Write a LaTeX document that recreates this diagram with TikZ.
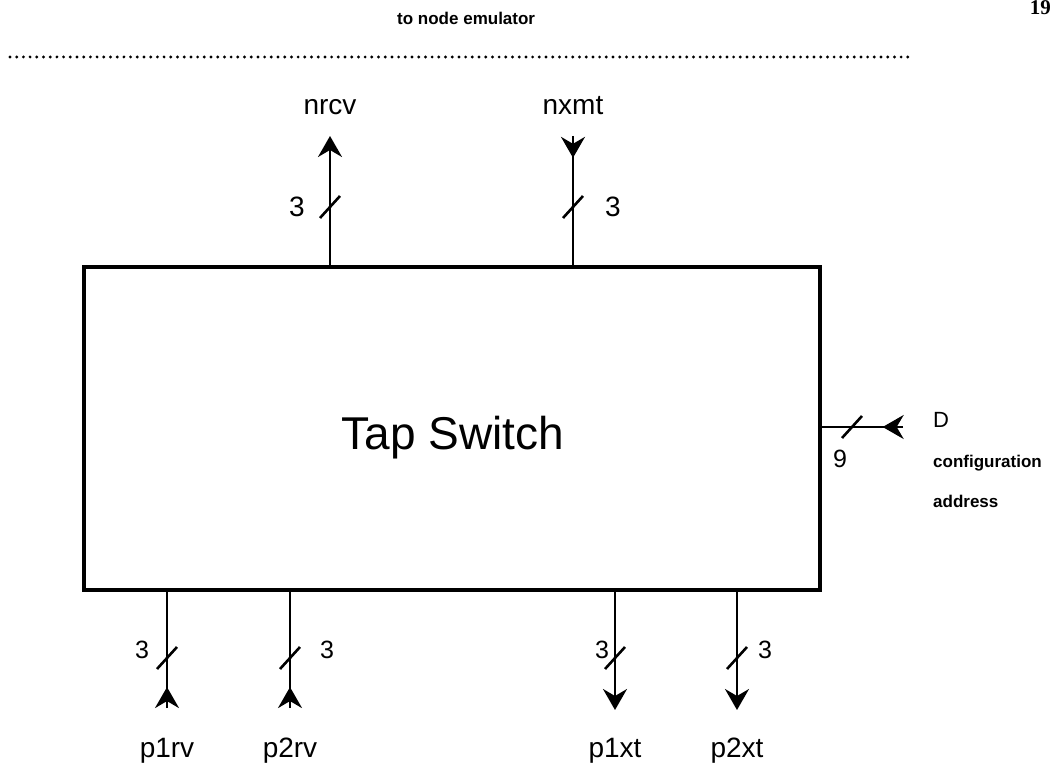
\documentclass[tikz,border=0pt]{standalone}
\usepackage{fontspec}
\setmainfont{Liberation Sans}
\newfontfamily\pgnumfont{Liberation Serif}
\usetikzlibrary{arrows.meta,decorations.markings}
\tikzset{btip/.tip={Stealth[length=21pt,width=24pt,inset=7pt]}}
\begin{document}
\begin{tikzpicture}[x=1pt,y=-1pt,
  lbl/.style={font=\fontsize{28}{32}\selectfont, inner sep=0pt, anchor=base},
  numtop/.style={font=\fontsize{28}{32}\selectfont, inner sep=0pt, anchor=base},
  numbot/.style={font=\fontsize{25}{28}\selectfont, inner sep=0pt, anchor=base},
  small/.style={font=\bfseries\fontsize{17}{20}\selectfont, inner sep=0pt, anchor=base west},
  wire/.style={line width=2.4pt},
  midtip/.style={postaction={decorate}, decoration={markings, mark=at position #1 with {\arrow{btip}}}},
  busmark/.pic={\draw[line width=2.6pt] (-10,11) -- (10,-11);}
]
\useasboundingbox (0,0) rectangle (1053,765);

% page header
\node[small] (hdr) at (397,25) {to node emulator};
\node[font=\pgnumfont\bfseries\fontsize{21}{24}\selectfont, inner sep=0pt, anchor=base east] (pg) at (1051,15) {19};
\coordinate (dl) at (10,57);
\coordinate (dr) at (912,57);
\draw[line width=3.2pt, line cap=round, dash pattern=on 0pt off 6.7pt] (dl) -- (dr);

% main block
\node[draw, line width=3.4pt, minimum width=736pt, minimum height=323pt, inner sep=0pt] (box) at (452,428.5) {};
\node[font=\fontsize{46}{50}\selectfont, inner sep=0pt] (title) at (453,438) {Tap Switch};

% top connectors
\node[lbl] (nrcv) at (330,115) {nrcv};
\node[lbl] (nxmt) at (573,115) {nxmt};
\coordinate (nrcvT) at (330,136);
\coordinate (nxmtT) at (573,136);
\draw[wire, -{btip}] (box.north -| nrcvT) -- (nrcvT);
\draw[wire, midtip=0.169] (nxmtT) -- (box.north -| nxmtT);
\pic at (330,207) {busmark};
\pic at (573,207) {busmark};
\node[numtop] (n1) at (297,217) {3};
\node[numtop] (n2) at (613,217) {3};

% right connector
\coordinate (Dend) at (903,427);
\draw[wire, midtip=0.25] (Dend) -- (box.east |- Dend);
\pic at (852,427) {busmark};
\node[numbot] (n9) at (840,467) {9};
\node[font=\fontsize{22}{26}\selectfont, inner sep=0pt, anchor=base west] (D) at (933,427) {D};
\node[small] (cfg) at (933,467) {configuration};
\node[small] (addr) at (933,507) {address};

% bottom connectors
\coordinate (p1rvB) at (167,708);
\coordinate (p2rvB) at (290,708);
\coordinate (p1xtB) at (615,710);
\coordinate (p2xtB) at (737,710);
\draw[wire, midtip=0.18] (p1rvB) -- (box.south -| p1rvB);
\draw[wire, midtip=0.18] (p2rvB) -- (box.south -| p2rvB);
\draw[wire, -{btip}] (box.south -| p1xtB) -- (p1xtB);
\draw[wire, -{btip}] (box.south -| p2xtB) -- (p2xtB);
\pic at (167,658) {busmark};
\pic at (290,658) {busmark};
\pic at (615,658) {busmark};
\pic at (737,658) {busmark};
\node[numbot] (n3) at (142,658) {3};
\node[numbot] (n4) at (327,658) {3};
\node[numbot] (n5) at (602,658) {3};
\node[numbot] (n6) at (765,658) {3};
\node[lbl] (p1rv) at (167,757) {p1rv};
\node[lbl] (p2rv) at (290,757) {p2rv};
\node[lbl] (p1xt) at (615,757) {p1xt};
\node[lbl] (p2xt) at (737,757) {p2xt};
\end{tikzpicture}
\end{document}
